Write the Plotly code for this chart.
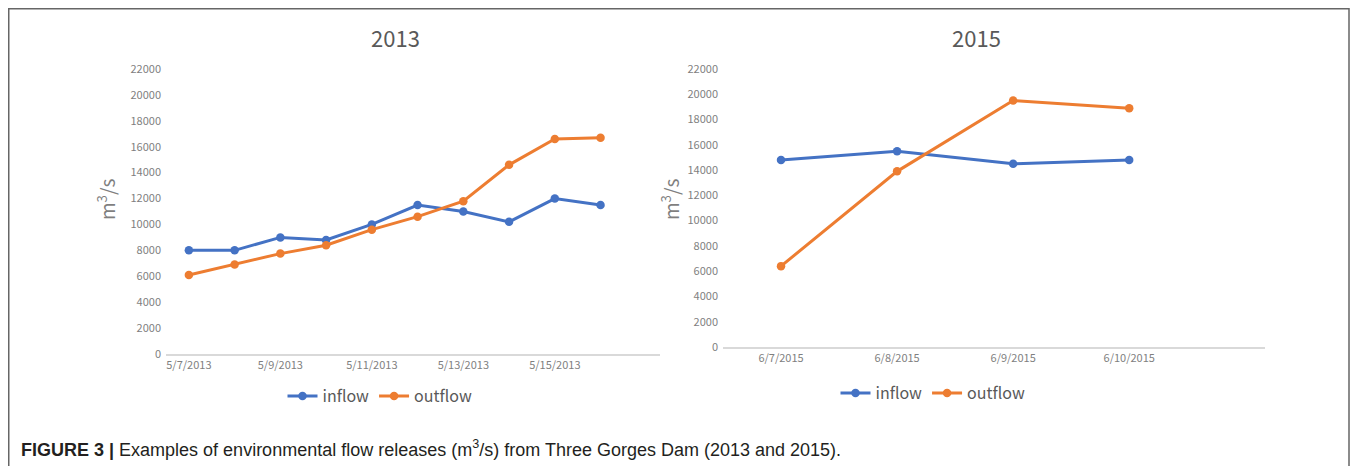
import plotly.graph_objects as go

# Page has an 8px body margin, so the figure is drawn 8px in from the window edge.
OFF = 8
W, H = 1358 - 2 * OFF, 474 - 2 * OFF

dates_2013 = ["5/7/2013", "5/8/2013", "5/9/2013", "5/10/2013", "5/11/2013",
              "5/12/2013", "5/13/2013", "5/14/2013", "5/15/2013", "5/16/2013"]
inflow_2013 = [8000, 8000, 9000, 8800, 10000, 11500, 11000, 10200, 12000, 11500]
outflow_2013 = [6100, 6900, 7750, 8400, 9600, 10600, 11800, 14600, 16600, 16700]
ticks_2013 = ["5/7/2013", "5/9/2013", "5/11/2013", "5/13/2013", "5/15/2013"]

dates_2015 = ["6/7/2015", "6/8/2015", "6/9/2015", "6/10/2015"]
inflow_2015 = [14800, 15500, 14500, 14800]
outflow_2015 = [6400, 13900, 19500, 18900]

yticks = list(range(0, 22001, 2000))

BLUE = "#4472C4"
ORANGE = "#ED7D31"
FONT = "Noto Sans CJK SC"
GRAY = "#7f7f7f"

def px(x):
    return (x - OFF) / W

def py(y):
    return (H - (y - OFF)) / H

fig = go.Figure()

def add_series(x, y, name, color, xa, ya, legend):
    fig.add_trace(go.Scatter(
        x=x, y=y, name=name, mode="lines+markers",
        line=dict(color=color, width=3),
        marker=dict(color=color, size=8.5),
        xaxis=xa, yaxis=ya, legend=legend, cliponaxis=False,
    ))

add_series(dates_2013, inflow_2013, "inflow", BLUE, "x", "y", "legend")
add_series(dates_2013, outflow_2013, "outflow", ORANGE, "x", "y", "legend")
add_series(dates_2015, inflow_2015, "inflow", BLUE, "x2", "y2", "legend2")
add_series(dates_2015, outflow_2015, "outflow", ORANGE, "x2", "y2", "legend2")

xcommon = dict(type="category", showgrid=False, showline=True, linecolor="#d9d9d9",
               linewidth=2, ticks="", zeroline=False, automargin=False,
               tickfont=dict(family=FONT, size=11, color=GRAY))
ycommon = dict(showgrid=False, showline=False, ticks="", zeroline=False, automargin=False,
               range=[0, 22000], tickvals=yticks, tickformat="d",
               tickfont=dict(family=FONT, size=11, color=GRAY), ticklabelstandoff=4)

fig.update_layout(
    width=W, height=H,
    margin=dict(l=0, r=0, t=0, b=0, autoexpand=False),
    paper_bgcolor="white", plot_bgcolor="white",
    showlegend=True,
    xaxis=dict(xcommon, domain=[px(166), px(660)], range=[-0.5, 10.3],
               tickvals=ticks_2013, ticktext=ticks_2013, anchor="y"),
    yaxis=dict(ycommon, domain=[py(354), py(69)], anchor="x"),
    xaxis2=dict(xcommon, domain=[px(723), px(1265)], range=[-0.5, 4.17],
                tickvals=dates_2015, ticktext=dates_2015, anchor="y2"),
    yaxis2=dict(ycommon, domain=[py(347), py(69)], anchor="x2"),
    legend=dict(orientation="h", x=px(380), y=py(396), xanchor="center", yanchor="middle",
                font=dict(family=FONT, size=16, color="#595959"), itemwidth=30,
                bgcolor="rgba(0,0,0,0)"),
    legend2=dict(orientation="h", x=px(933), y=py(393), xanchor="center", yanchor="middle",
                 font=dict(family=FONT, size=16, color="#595959"), itemwidth=30,
                 bgcolor="rgba(0,0,0,0)"),
)

for text, xx in [("2013", 395), ("2015", 977)]:
    fig.add_annotation(xref="paper", yref="paper", showarrow=False,
                       xanchor="center", yanchor="middle", text=text,
                       x=px(xx), y=py(37),
                       font=dict(family=FONT, size=22, color="#595959"))

for xx, yy in [(106, 200), (670, 200)]:
    fig.add_annotation(xref="paper", yref="paper", showarrow=False, textangle=-90,
                       x=px(xx), y=py(yy), xanchor="center", yanchor="middle",
                       text="m<sup>3</sup>/s",
                       font=dict(family=FONT, size=19, color=GRAY))

fig.add_annotation(xref="paper", yref="paper", showarrow=False,
                   x=px(19), y=py(448), xanchor="left", yanchor="middle",
                   text="<b>FIGURE 3 |</b> Examples of environmental flow releases (m<sup>3</sup>/s) from Three Gorges Dam (2013 and 2015).",
                   font=dict(family="Liberation Sans", size=18, color="#231f20"))

fig.add_shape(type="rect", xref="paper", yref="paper",
              x0=px(8.75), x1=1 - 1 / W, y0=-0.1, y1=py(8.75),
              line=dict(color="#666666", width=1.5), fillcolor="rgba(0,0,0,0)")

fig.write_html("out.html")
